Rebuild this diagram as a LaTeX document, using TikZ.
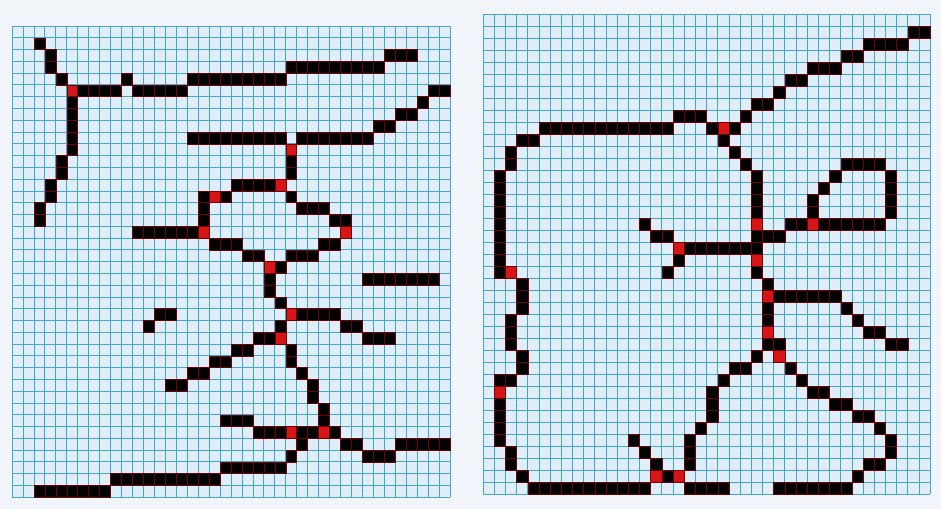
\documentclass[tikz,border=0pt]{standalone}
\usepackage{tikz}
\definecolor{paper}{RGB}{241,245,250}
\definecolor{cellbg}{RGB}{224,238,250}
\definecolor{gridcyan}{RGB}{70,165,205}
\definecolor{inkred}{RGB}{214,22,22}

\begin{document}
\begin{tikzpicture}[
      x=0.02cm,y=-0.02cm,
      gridline/.style={draw=gridcyan, line width=0.45pt},
      blk/.style={fill=black, draw=red!45!black, line width=0.25pt},
      junc/.style={fill=inkred, draw=red!45!black, line width=0.25pt}
    ]
      \fill[paper] (0,0) rectangle (941,509);
      \useasboundingbox (0,0) rectangle (941,509);
      % left grid
      \begin{scope}[shift={(12,26)},xscale=10.95,yscale=11.78]
        \fill[cellbg] (0,0) rectangle (40,40);
        \foreach \i in {0,...,40} {\draw[gridline] (\i,0) -- (\i,40); \draw[gridline] (0,\i) -- (40,\i);}
        \foreach \r/\a/\b in {1/2/2, 2/3/3, 2/34/36, 3/3/3, 3/25/33, 4/4/4, 4/10/10, 4/16/24, 5/6/9, 5/11/15, 5/38/39,
            6/5/5, 6/37/37, 7/5/5, 7/35/36, 8/5/5, 8/33/34, 9/5/5, 9/16/24, 9/26/32, 10/5/5, 11/4/4, 11/25/25,
            12/4/4, 12/25/25, 13/3/3, 13/20/23, 14/3/3, 14/17/17, 14/19/19, 14/25/25, 15/2/2, 15/17/17, 15/26/28,
            16/2/2, 16/17/17, 16/29/30, 17/11/16, 18/18/20, 18/28/29, 19/21/22, 19/25/27, 20/24/24, 21/23/23,
            21/32/38, 22/23/23, 23/24/24, 24/13/14, 24/26/29, 25/12/12, 25/24/24, 25/30/31, 26/22/23, 26/32/34,
            27/20/21, 27/25/25, 28/18/19, 28/25/25, 29/16/17, 29/26/26, 30/14/15, 30/27/27, 31/27/27, 32/28/28,
            33/19/21, 33/28/28, 34/22/24, 34/26/27, 34/29/29, 35/26/26, 35/30/31, 35/35/39, 36/25/25, 36/32/34,
            37/19/24, 38/9/18, 39/2/8}
          {\foreach \c in {\a,...,\b} \draw[blk] (\c,\r) rectangle ++(1,1);}
        \foreach \c/\r in {5/5, 25/10, 24/13, 18/14, 17/17, 30/17, 23/20, 25/24, 24/26, 25/34, 28/34}
          \draw[junc] (\c,\r) rectangle ++(1,1);
      \end{scope}
      % right grid
      \begin{scope}[shift={(483,14.5)},xscale=11.18,yscale=12.0]
        \fill[cellbg] (0,0) rectangle (40,40);
        \foreach \i in {0,...,40} {\draw[gridline] (\i,0) -- (\i,40); \draw[gridline] (0,\i) -- (40,\i);}
        \foreach \r/\a/\b in {1/38/39, 2/34/37, 3/32/33, 4/29/31, 5/27/28, 6/26/26, 7/24/25, 8/17/19, 8/23/23,
            9/5/16, 9/20/20, 9/22/22, 10/3/4, 10/21/21, 11/2/2, 11/22/22, 12/2/2, 12/23/23, 12/32/35,
            13/1/1, 13/24/24, 13/31/31, 13/36/36, 14/1/1, 14/24/24, 14/30/30, 14/36/36, 15/1/1, 15/24/24,
            15/29/29, 15/36/36, 16/1/1, 16/24/24, 16/29/29, 16/36/36, 17/1/1, 17/14/14, 17/27/28, 17/30/35,
            18/1/1, 18/15/16, 18/24/26, 19/1/1, 19/18/24, 20/1/1, 20/17/17, 21/1/1, 21/16/16, 21/24/24,
            22/3/3, 22/25/25, 23/3/3, 23/26/31, 24/3/3, 24/25/25, 24/32/32, 25/2/2, 25/25/25, 25/33/33,
            26/2/2, 26/34/35, 27/2/2, 27/25/26, 27/36/37, 28/3/3, 28/24/24, 29/3/3, 29/22/23, 29/27/27,
            30/1/2, 30/21/21, 30/28/28, 31/20/20, 31/29/30, 32/1/1, 32/20/20, 32/31/32, 33/1/1, 33/20/20,
            33/33/34, 34/1/1, 34/19/19, 34/35/35, 35/1/1, 35/13/13, 35/18/18, 35/36/36, 36/2/2, 36/14/14,
            36/18/18, 36/36/36, 37/2/2, 37/15/15, 37/18/18, 37/34/35, 38/3/3, 38/16/16, 38/33/33,
            39/4/14, 39/18/21, 39/26/32}
          {\foreach \c in {\a,...,\b} \draw[blk] (\c,\r) rectangle ++(1,1);}
        \foreach \c/\r in {21/9, 24/17, 29/17, 17/19, 24/20, 2/21, 25/23, 25/26, 26/28, 1/31, 15/38, 17/38}
          \draw[junc] (\c,\r) rectangle ++(1,1);
      \end{scope}
    \end{tikzpicture}
\end{document}
